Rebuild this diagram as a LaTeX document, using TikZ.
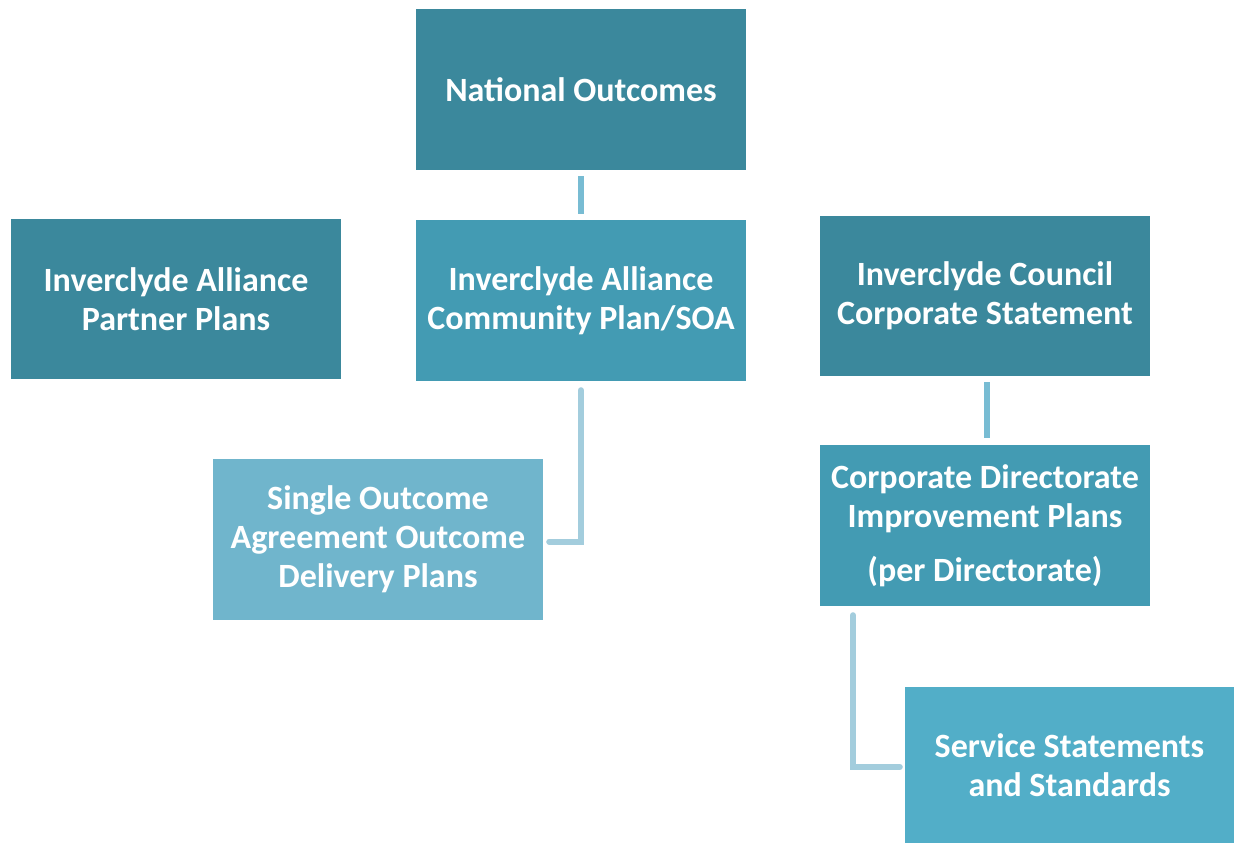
\documentclass[tikz,border=0pt]{standalone}
\usepackage{fontspec}
\setmainfont{Carlito}
\definecolor{darkteal}{HTML}{3B889C}
\definecolor{midteal}{HTML}{439BB3}
\definecolor{lightteal}{HTML}{70B5CC}
\definecolor{brightteal}{HTML}{52AEC8}
\definecolor{connA}{HTML}{78BCD3}
\definecolor{connB}{HTML}{A3CDDD}
\begin{document}
\begin{tikzpicture}[x=1pt,y=-1pt,
  box/.style={rectangle, inner sep=0pt, minimum width=330pt, minimum height=161pt,
    text=white, font=\bfseries\fontsize{34}{39}\selectfont, align=center},
  conn/.style={line width=6pt},
  connl/.style={line width=6pt, draw=connB, line cap=round, line join=miter}]
\useasboundingbox (0,0) rectangle (1234,843);
\node[box, fill=darkteal] (no) at (581,89.5) {National Outcomes};
\node[box, fill=darkteal, minimum height=160pt] (pp) at (176,299) {Inverclyde Alliance\\Partner Plans};
\node[box, fill=midteal] (cp) at (581,300.5) {Inverclyde Alliance\\Community Plan/SOA};
\node[box, fill=darkteal, minimum height=160pt] (cs) at (985,296) {Inverclyde Council\\Corporate Statement};
\node[box, fill=lightteal] (so) at (378,539.5) {Single Outcome\\Agreement Outcome\\Delivery Plans};
\node[box, fill=midteal] (cd) at (985,525.5) {Corporate Directorate\\Improvement Plans\\[15pt](per Directorate)};
\node[box, fill=brightteal, minimum width=329pt, minimum height=156pt] (ss) at (1069.5,765) {Service Statements\\and Standards};
\draw[conn, draw=connA] ([yshift=-6pt]no.south) -- ([yshift=6pt]cp.north);
\draw[conn, draw=connA] ([xshift=2pt,yshift=-6pt]cs.south) -- ([xshift=2pt,yshift=7pt]cd.north);
\draw[connl] ([yshift=-9pt]cp.south) |- ([xshift=6pt,yshift=-2pt]so.east);
\draw[connl] ([xshift=-132pt,yshift=-9pt]cd.south) |- ([xshift=-5pt,yshift=-2pt]ss.west);
\end{tikzpicture}
\end{document}
